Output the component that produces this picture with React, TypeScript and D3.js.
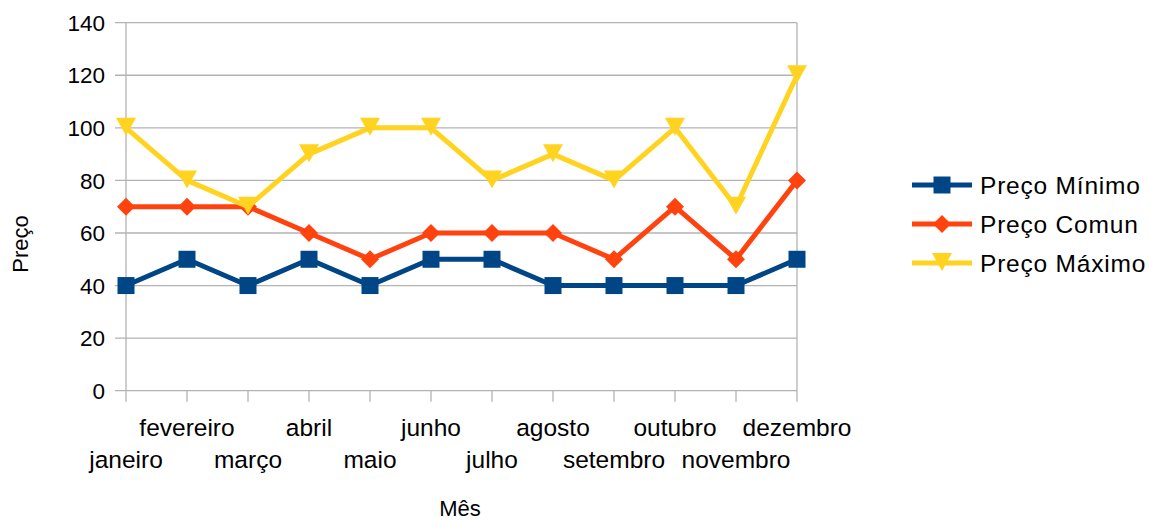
import React from "react";
import { scalePoint, scaleLinear, line, symbol, symbolSquare } from "d3";

const months = ["janeiro", "fevereiro", "março", "abril", "maio", "junho", "julho", "agosto", "setembro", "outubro", "novembro", "dezembro"];
const precoMinimo = [40, 50, 40, 50, 40, 50, 50, 40, 40, 40, 40, 50];
const precoComun = [70, 70, 70, 60, 50, 60, 60, 60, 50, 70, 50, 80];
const precoMaximo = [100, 80, 70, 90, 100, 100, 80, 90, 80, 100, 70, 120];
const yTicks = [0, 20, 40, 60, 80, 100, 120, 140];

const seriesNames = ["Preço Mínimo", "Preço Comun", "Preço Máximo"];
const seriesColors = ["#004586", "#ff420e", "#ffd320"];
const seriesMarkers = ["square", "diamond", "triangle"];

const font = "'Liberation Sans', Arial, sans-serif";

// marker drawn centered at 0,0
function Marker({ kind, color }: { kind: string; color: string }) {
  if (kind === "square") {
    return <path d={symbol(symbolSquare, 17 * 17)()!} fill={color} />;
  }
  if (kind === "diamond") {
    return <path d="M0,-9L9,0L0,9L-9,0Z" fill={color} />;
  }
  return <path d="M-10,-10L10,-10L0,8Z" fill={color} />;
}

export default function App() {
  const width = 1149;
  const height = 520;
  const left = 126;
  const right = 797;
  const top = 22.7;
  const bottom = 390.7;

  const xScale = scalePoint<string>().domain(months).range([left, right]).padding(0);
  const yScale = scaleLinear().domain([0, 140]).range([bottom, top]);

  const allSeries = [precoMinimo, precoComun, precoMaximo];

  const lineGen = line<number>()
    .x((_, i) => xScale(months[i])!)
    .y((d) => yScale(d));

  const legendY = [185, 224, 263];

  return (
    <svg width={width} height={height} style={{ position: "absolute", left: 0, top: 0, background: "#fff" }} fontFamily={font}>
      {/* horizontal grid + y ticks */}
      {yTicks.map((t) => (
        <g key={t}>
          <line x1={left - 11} x2={right} y1={yScale(t)} y2={yScale(t)} stroke="#b3b3b3" strokeWidth={1.3} />
          <text x={105} y={yScale(t)} dy="0.36em" textAnchor="end" fontSize={22.5} fill="#000">{t}</text>
        </g>
      ))}
      {/* left axis and right border */}
      <line x1={left} x2={left} y1={top} y2={bottom} stroke="#b3b3b3" strokeWidth={1.3} />
      <line x1={right} x2={right} y1={top} y2={bottom} stroke="#b3b3b3" strokeWidth={1.3} />
      {/* x ticks */}
      {months.map((m, i) => (
        <g key={m}>
          <line x1={xScale(m)} x2={xScale(m)} y1={bottom} y2={bottom + 11} stroke="#b3b3b3" strokeWidth={1.3} />
          <text x={xScale(m)} y={i % 2 === 0 ? 468 : 436} textAnchor="middle" fontSize={24.5} fill="#000">{m}</text>
        </g>
      ))}

      {/* series */}
      {allSeries.map((s, si) => (
        <g key={si}>
          <path d={lineGen(s)!} fill="none" stroke={seriesColors[si]} strokeWidth={5} strokeLinejoin="round" />
          {s.map((v, i) => (
            <g key={i} transform={`translate(${xScale(months[i])},${yScale(v)})`}>
              <Marker kind={seriesMarkers[si]} color={seriesColors[si]} />
            </g>
          ))}
        </g>
      ))}

      {/* axis titles */}
      <text transform="translate(28,244) rotate(-90)" textAnchor="middle" fontSize={22} fill="#000">Preço</text>
      <text x={460} y={516} textAnchor="middle" fontSize={22} fill="#000">Mês</text>

      {/* legend */}
      {seriesNames.map((n, i) => (
        <g key={n} transform={`translate(0,${legendY[i]})`}>
          <line x1={912} x2={972} y1={0} y2={0} stroke={seriesColors[i]} strokeWidth={5} />
          <g transform="translate(942,0)">
            <Marker kind={seriesMarkers[i]} color={seriesColors[i]} />
          </g>
          <text x={980} y={0} dy="0.36em" fontSize={24.5} letterSpacing={0.8} fill="#000">{n}</text>
        </g>
      ))}
    </svg>
  );
}
